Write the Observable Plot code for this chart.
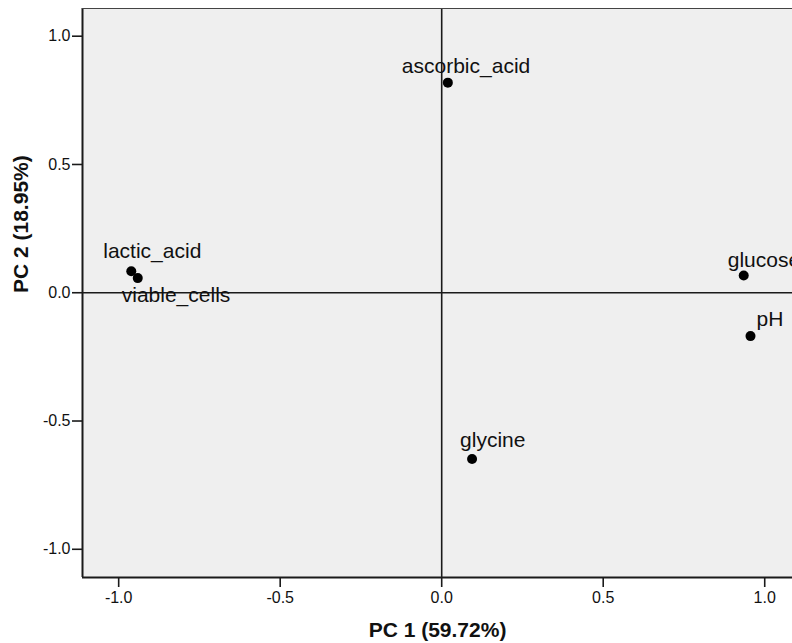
<!DOCTYPE html>
<html>
<head>
<meta charset="utf-8">
<script src="https://cdn.jsdelivr.net/npm/d3@7"></script>
<script src="https://cdn.jsdelivr.net/npm/@observablehq/plot@0.6"></script>
<style>
  html, body { margin: 0; padding: 0; background: #fff; }
  svg { display: block; }
</style>
</head>
<body>
<div id="chart"></div>
<script>
// Data
const variables = ["ascorbic_acid", "lactic_acid", "viable_cells", "glucose", "pH", "glycine"];
const pc1 = [0.019, -0.961, -0.941, 0.935, 0.956, 0.094];
const pc2 = [0.819, 0.084, 0.057, 0.067, -0.169, -0.648];
const tickValues = [-1.0, -0.5, 0.0, 0.5, 1.0];
const xTitle = ["PC 1 (59.72%)"];
const yTitle = ["PC 2 (18.95%)"];

const rows = variables.map((name, i) => ({name, x: pc1[i], y: pc2[i]}));

const xDomain = [-1.112, 1.086];
const yDomain = [-1.110, 1.108];
const font = "'Liberation Sans', Arial, Helvetica, sans-serif";
const ink = "#1a1a1a";

// label placement offsets (px) relative to each point
const labelOffset = {
  ascorbic_acid: [-46, -10],
  lactic_acid: [-28, -13],
  viable_cells: [-16, 24],
  glucose: [-16, -9],
  pH: [6, -10],
  glycine: [-12, -12]
};

const labelMarks = rows.map(r => Plot.text([r], {
  x: "x", y: "y", text: "name",
  textAnchor: "start", lineAnchor: "bottom",
  dx: labelOffset[r.name][0], dy: labelOffset[r.name][1],
  fontSize: 21, fill: "#111"
}));

const chart = Plot.plot({
  width: 792,
  height: 643,
  marginLeft: 82,
  marginRight: 0,
  marginTop: 8,
  marginBottom: 66,
  style: {fontFamily: font, background: "#fff"},
  x: {domain: xDomain},
  y: {domain: yDomain},
  marks: [
    Plot.frame({fill: "#efefef", stroke: null}),
    Plot.ruleX([0], {stroke: ink, strokeWidth: 1.6}),
    Plot.ruleY([0], {stroke: ink, strokeWidth: 1.6}),
    Plot.ruleX([xDomain[0]], {stroke: ink, strokeWidth: 2}),
    Plot.ruleY([yDomain[0]], {stroke: ink, strokeWidth: 2}),
    Plot.ruleY([yDomain[1]], {stroke: "#444", strokeWidth: 1.2}),
    Plot.axisX({ticks: tickValues, tickFormat: d => d.toFixed(1), tickSize: 10, tickPadding: 4,
      fontSize: 16, stroke: ink, strokeWidth: 1.6, fill: "#111", label: null}),
    Plot.axisY({ticks: tickValues, tickFormat: d => d.toFixed(1), tickSize: 10, tickPadding: 2,
      fontSize: 16, stroke: ink, strokeWidth: 1.6, fill: "#111", label: null}),
    Plot.dot(rows, {x: "x", y: "y", r: 5, fill: "#000", stroke: null}),
    ...labelMarks,
    Plot.text(xTitle, {frameAnchor: "bottom", text: d => d, lineAnchor: "bottom", dy: 59,
      fontSize: 21, fontWeight: "bold", fill: "#111"}),
    Plot.text(yTitle, {frameAnchor: "left", text: d => d, lineAnchor: "bottom", rotate: -90, dx: -55,
      fontSize: 21, fontWeight: "bold", fill: "#111"})
  ]
});

document.getElementById("chart").appendChild(chart);
</script>
</body>
</html>
